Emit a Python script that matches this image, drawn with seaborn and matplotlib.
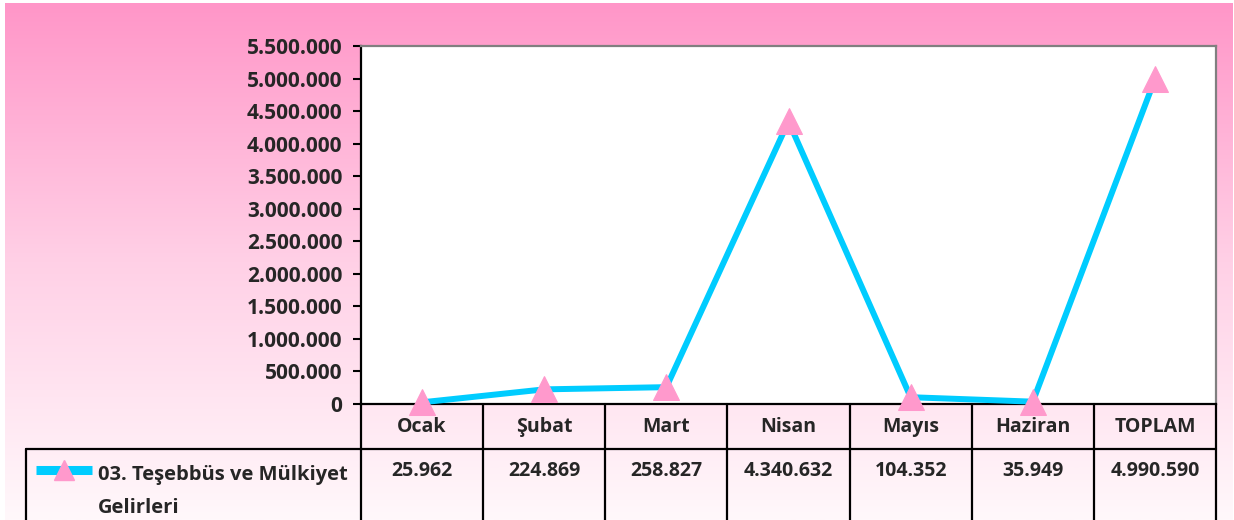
import numpy as np
import pandas as pd
import seaborn as sns
import matplotlib.pyplot as plt
from matplotlib.colors import LinearSegmentedColormap

# ------------------------------------------------------------
# data
# ------------------------------------------------------------
months = ["Ocak", "Şubat", "Mart", "Nisan", "Mayıs", "Haziran", "TOPLAM"]
values = [25962, 224869, 258827, 4340632, 104352, 35949, 4990590]
series_name = "03. Teşebbüs ve Mülkiyet\nGelirleri"
y_ticks = list(range(0, 5500001, 500000))

LINE_COLOR = "#00CCFF"
MARKER_COLOR = "#FF99CC"
FS = 14

sns.set_style("white")
plt.rcParams["font.family"] = ["Open Sans", "DejaVu Sans"]
plt.rcParams["font.weight"] = "bold"

W, H = 1234, 520
fig = plt.figure(figsize=(W / 100, H / 100), dpi=100)
fig.patch.set_facecolor("white")

# pink -> white gradient background
bg = fig.add_axes([5 / W, 0, (1232 - 5) / W, (H - 3) / H], zorder=0)
grad_cmap = LinearSegmentedColormap.from_list("pinkfade", ["#FFF8FB", "#FFD0E6", "#FF96C8"])
bg.imshow(np.linspace(0, 1, 256).reshape(-1, 1), aspect="auto", cmap=grad_cmap,
          origin="lower", extent=[0, 1, 0, 1])
bg.axis("off")

# plot area
ax = fig.add_axes([361 / W, 1 - 404 / H, 855 / W, 358 / H], zorder=2)
ax.set_facecolor("white")

df = pd.DataFrame({"x": np.arange(len(months)), "value": values})
sns.lineplot(data=df, x="x", y="value", ax=ax, sort=False, color=LINE_COLOR, lw=4.3,
             marker="^", markersize=19, markerfacecolor=MARKER_COLOR,
             markeredgecolor=MARKER_COLOR, clip_on=False, zorder=5)

ax.set_xlim(-0.5, len(months) - 0.5)
ax.set_ylim(0, 5500000)
ax.set_yticks(y_ticks)
ax.set_yticklabels([f"{v:,}".replace(",", ".") for v in y_ticks], fontsize=15, fontweight="bold")
ax.set_xticks([])
ax.set_xlabel("")
ax.set_ylabel("")
ax.tick_params(axis="y", direction="out", length=5.5, width=1.5, color="black", pad=8, left=True)

for side in ["left", "bottom"]:
    ax.spines[side].set_color("black")
    ax.spines[side].set_linewidth(1.6)
for side in ["top", "right"]:
    ax.spines[side].set_color("#808080")
    ax.spines[side].set_linewidth(1.6)

# ------------------------------------------------------------
# data table under the plot
# ------------------------------------------------------------
tr = ax.get_xaxis_transform()
px_unit = 855 / len(months)
x_left = -0.5 + (26 - 361) / px_unit
y_head = -45 / 358
y_end = -0.5

def tline(xs, ys):
    ax.plot(xs, ys, transform=tr, color="black", lw=1.6, clip_on=False, zorder=4)

for i in range(len(months) + 1):
    tline([i - 0.5, i - 0.5], [0, y_end])
tline([x_left, x_left], [y_head, y_end])
tline([x_left, len(months) - 0.5], [y_head, y_head])

for i, (m, v) in enumerate(zip(months, values)):
    ax.text(i, -23 / 358, m, transform=tr, ha="center", va="center",
            fontsize=FS, fontweight="bold")
    ax.text(i, -67 / 358, f"{v:,}".replace(",", "."), transform=tr, ha="center",
            va="center", fontsize=FS, fontweight="bold")

# legend key inside the table
kx0 = -0.5 + (36 - 361) / px_unit
kx1 = -0.5 + (92 - 361) / px_unit
ky = -(470 - 404) / 358
ax.plot([kx0, kx1], [ky, ky], transform=tr, color=LINE_COLOR, lw=6.5, clip_on=False,
        solid_capstyle="butt", zorder=5)
ax.plot([(kx0 + kx1) / 2], [ky], transform=tr, marker="^", markersize=15,
        color=MARKER_COLOR, clip_on=False, zorder=6)
ax.text(-0.5 + (98 - 361) / px_unit, -(465 - 404) / 358, series_name, transform=tr,
        ha="left", va="top", fontsize=14.5, fontweight="bold", linespacing=1.85)

fig.savefig("out.png", dpi=100)
